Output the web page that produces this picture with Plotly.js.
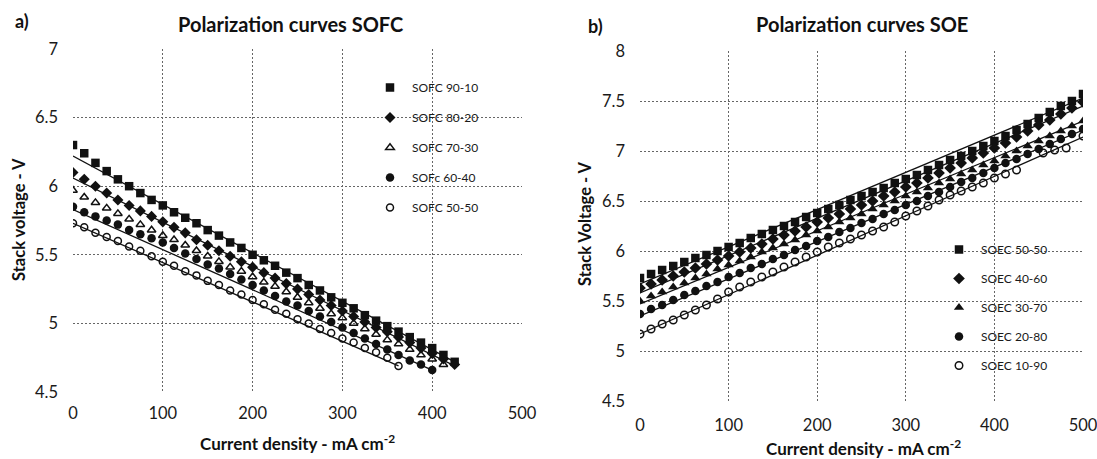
<!DOCTYPE html>
<html>
<head>
<meta charset="utf-8">
<script src="https://cdn.plot.ly/plotly-3.0.1.min.js"></script>
<style>html,body{margin:0;padding:0;background:#fff;}#chart{width:1097px;height:459px;}</style>
</head>
<body>
<div id="chart"></div>
<script>
// ---------- SOFC (panel a) ----------
const fcCurrent = [0,12.5,25,37.5,50,62.5,75,87.5,100,112.5,125,137.5,150,162.5,175,187.5,200,212.5,225,237.5,250,262.5,275,287.5,300,312.5,325,337.5,350,362.5,375,387.5,400,412.5,425];
const fcNames = ["SOFC 90-10","SOFC 80-20","SOFC 70-30","SOFc 60-40","SOFC 50-50"];
const fc9010 = [6.30,6.24,6.17,6.11,6.05,6.00,5.95,5.90,5.86,5.81,5.77,5.73,5.68,5.64,5.59,5.55,5.50,5.46,5.42,5.37,5.33,5.28,5.24,5.19,5.15,5.11,5.06,5.02,4.98,4.94,4.90,4.86,4.82,4.77,4.72];
const fc8020 = [6.10,6.05,6.00,5.95,5.90,5.86,5.82,5.78,5.74,5.70,5.66,5.61,5.57,5.53,5.49,5.45,5.41,5.37,5.33,5.29,5.25,5.21,5.17,5.13,5.09,5.05,5.01,4.97,4.94,4.90,4.86,4.82,4.78,4.74,4.70];
const fc7030 = [5.97,5.92,5.88,5.84,5.80,5.76,5.72,5.68,5.64,5.61,5.57,5.53,5.49,5.45,5.41,5.38,5.34,5.30,5.27,5.23,5.19,5.15,5.11,5.07,5.04,5.00,4.96,4.92,4.88,4.85,4.81,4.77,4.74,4.70];
const fc6040 = [5.85,5.81,5.78,5.75,5.72,5.68,5.65,5.62,5.59,5.55,5.51,5.47,5.43,5.40,5.36,5.32,5.28,5.24,5.20,5.16,5.13,5.09,5.05,5.01,4.97,4.93,4.89,4.85,4.81,4.77,4.73,4.70,4.66];
const fc5050 = [5.73,5.70,5.66,5.63,5.60,5.56,5.53,5.49,5.45,5.42,5.38,5.35,5.31,5.28,5.24,5.21,5.17,5.14,5.10,5.07,5.03,5.00,4.96,4.93,4.89,4.86,4.82,4.79,4.75,4.69];
// linear trend lines (end points)
const fcFitX9010 = [0,425],   fcFit9010 = [6.22,4.72];
const fcFitX8020 = [0,425],   fcFit8020 = [6.06,4.69];
const fcFitX6040 = [0,400],   fcFit6040 = [5.83,4.66];
const fcFitX5050 = [0,362.5], fcFit5050 = [5.73,4.69];

// ---------- SOEC (panel b) ----------
const ecCurrent = [0,12.5,25,37.5,50,62.5,75,87.5,100,112.5,125,137.5,150,162.5,175,187.5,200,212.5,225,237.5,250,262.5,275,287.5,300,312.5,325,337.5,350,362.5,375,387.5,400,412.5,425,437.5,450,462.5,475,487.5,500];
const ecNames = ["SOEC 50-50","SOEC 40-60","SOEC 30-70","SOEC 20-80","SOEC 10-90"];
const ec5050 = [5.73,5.77,5.81,5.85,5.89,5.93,5.96,6.00,6.04,6.08,6.13,6.17,6.21,6.25,6.29,6.34,6.38,6.42,6.46,6.51,6.55,6.59,6.63,6.68,6.72,6.76,6.81,6.86,6.91,6.95,7.00,7.05,7.10,7.15,7.21,7.27,7.33,7.39,7.45,7.50,7.57];
const ec4060 = [5.63,5.67,5.71,5.75,5.79,5.83,5.87,5.91,5.95,5.99,6.03,6.07,6.12,6.16,6.20,6.24,6.29,6.33,6.37,6.42,6.46,6.50,6.55,6.59,6.64,6.68,6.73,6.78,6.83,6.88,6.93,6.98,7.03,7.08,7.14,7.20,7.26,7.31,7.37,7.43,7.49];
const ec3070 = [5.50,5.55,5.59,5.64,5.68,5.73,5.77,5.82,5.86,5.90,5.94,5.99,6.03,6.07,6.11,6.16,6.20,6.24,6.29,6.33,6.37,6.42,6.46,6.50,6.55,6.59,6.63,6.68,6.72,6.77,6.81,6.86,6.90,6.95,7.00,7.05,7.10,7.15,7.20,7.25,7.30];
const ec2080 = [5.37,5.42,5.46,5.51,5.56,5.60,5.65,5.69,5.74,5.78,5.83,5.87,5.92,5.96,6.01,6.05,6.10,6.14,6.19,6.23,6.28,6.32,6.37,6.41,6.46,6.50,6.55,6.59,6.64,6.69,6.73,6.78,6.83,6.88,6.92,6.97,7.02,7.07,7.12,7.17,7.22];
const ecCurrent1090 = [0,12.5,25,37.5,50,62.5,75,87.5,100,112.5,125,137.5,150,162.5,175,187.5,200,212.5,225,237.5,250,262.5,275,287.5,300,312.5,325,337.5,350,362.5,375,387.5,400,412.5,425,455,468,481,500];
const ec1090 = [5.17,5.22,5.27,5.31,5.36,5.41,5.46,5.52,5.59,5.64,5.69,5.74,5.79,5.84,5.89,5.94,5.99,6.04,6.08,6.12,6.16,6.20,6.24,6.29,6.35,6.40,6.45,6.51,6.56,6.60,6.64,6.68,6.73,6.77,6.81,6.98,7.01,7.03,7.15];
const ecFitX = [0,500];
const ecFit5050 = [5.67,7.53];
const ecFit4060 = [5.58,7.45];
const ecFit3070 = [5.47,7.30];
const ecFit2080 = [5.35,7.21];
const ecFit1090 = [5.17,7.14];

const INK = '#111';
function pts(x, y, name, symbol, size, xa, ya, legend, grp) {
  const open = symbol.indexOf('open') >= 0;
  return {
    type: 'scatter', mode: 'markers', x: x, y: y, name: name,
    xaxis: xa, yaxis: ya, legend: legend, legendgroup: grp,
    marker: {symbol: symbol, size: size, color: INK, line: {color: INK, width: open ? 1.5 : 0}}
  };
}
function fit(x, y, xa, ya) {
  return {type: 'scatter', mode: 'lines', x: x, y: y, xaxis: xa, yaxis: ya,
    showlegend: false, hoverinfo: 'skip', line: {color: INK, width: 1.3}};
}

const traces = [
  fit(fcFitX9010, fcFit9010, 'x', 'y'),
  fit(fcFitX8020, fcFit8020, 'x', 'y'),
  fit(fcFitX6040, fcFit6040, 'x', 'y'),
  fit(fcFitX5050, fcFit5050, 'x', 'y'),
  pts(fcCurrent.slice(0, fc9010.length), fc9010, fcNames[0], 'square', 8.5, 'x', 'y', 'legend', 'a1'),
  pts(fcCurrent.slice(0, fc8020.length), fc8020, fcNames[1], 'diamond', 8.5, 'x', 'y', 'legend', 'a2'),
  pts(fcCurrent.slice(0, fc7030.length), fc7030, fcNames[2], 'triangle-up-open', 7.5, 'x', 'y', 'legend', 'a3'),
  pts(fcCurrent.slice(0, fc6040.length), fc6040, fcNames[3], 'circle', 8.5, 'x', 'y', 'legend', 'a4'),
  pts(fcCurrent.slice(0, fc5050.length), fc5050, fcNames[4], 'circle-open', 7, 'x', 'y', 'legend', 'a5'),

  fit(ecFitX, ecFit5050, 'x2', 'y2'),
  fit(ecFitX, ecFit4060, 'x2', 'y2'),
  fit(ecFitX, ecFit3070, 'x2', 'y2'),
  fit(ecFitX, ecFit2080, 'x2', 'y2'),
  fit(ecFitX, ecFit1090, 'x2', 'y2'),
  pts(ecCurrent, ec5050, ecNames[0], 'square', 8.5, 'x2', 'y2', 'legend2', 'b1'),
  pts(ecCurrent, ec4060, ecNames[1], 'diamond', 9, 'x2', 'y2', 'legend2', 'b2'),
  pts(ecCurrent, ec3070, ecNames[2], 'triangle-up', 9, 'x2', 'y2', 'legend2', 'b3'),
  pts(ecCurrent, ec2080, ecNames[3], 'circle', 8.5, 'x2', 'y2', 'legend2', 'b4'),
  pts(ecCurrent1090, ec1090, ecNames[4], 'circle-open', 7.5, 'x2', 'y2', 'legend2', 'b5')
];

const W = 1097, H = 459;
const px = v => v / W, py = v => 1 - v / H;
const axBase = {
  showgrid: true, gridcolor: '#666', griddash: '2px,2px', gridwidth: 1,
  zeroline: false, showline: false, ticks: '', fixedrange: true, ticklabeloverflow: 'allow',
  tickfont: {family: 'Lato, sans-serif', size: 16.5, color: '#1a1a1a'}
};
const legBase = {
  font: {family: 'Lato, sans-serif', size: 12, color: '#1a1a1a'},
  bgcolor: 'rgba(255,255,255,0)', itemsizing: 'trace', itemwidth: 34,
  xanchor: 'left', yanchor: 'top'
};
const bold = (s) => '<b>' + s + '</b>';
const annFont = (size) => ({family: 'Lato, sans-serif', size: size, color: '#111'});
function ann(text, x, y, size, angle) {
  return {text: bold(text), x: px(x), y: py(y), xref: 'paper', yref: 'paper',
    xanchor: 'center', yanchor: 'middle', showarrow: false, textangle: angle || 0, font: annFont(size)};
}

const layout = {
  width: W, height: H,
  margin: {l: 0, r: 0, t: 0, b: 0},
  paper_bgcolor: '#fff', plot_bgcolor: '#fff',
  font: {family: 'Lato, sans-serif', color: '#111'},
  xaxis: Object.assign({}, axBase, {domain: [px(73), px(522)], range: [0, 500], tick0: 0, dtick: 100, anchor: 'y', ticklabelstandoff: 9}),
  yaxis: Object.assign({}, axBase, {domain: [1 - 392 / H, 1 - 49 / H], range: [4.5, 7], tick0: 4.5, dtick: 0.5, anchor: 'x', ticklabelstandoff: 14}),
  xaxis2: Object.assign({}, axBase, {domain: [px(640), px(1083)], range: [0, 500], tick0: 0, dtick: 100, anchor: 'y2', ticklabelstandoff: 12}),
  yaxis2: Object.assign({}, axBase, {domain: [1 - 401 / H, 1 - 51 / H], range: [4.5, 8], tick0: 4.5, dtick: 0.5, anchor: 'x2', ticklabelstandoff: 14}),
  legend: Object.assign({}, legBase, {x: px(368), y: py(73), tracegroupgap: 11}),
  legend2: Object.assign({}, legBase, {x: px(937), y: py(235), tracegroupgap: 10}),
  showlegend: true,
  annotations: [
    ann('a)', 22, 21, 18),
    ann('Polarization curves SOFC', 290, 24, 20),
    ann('b)', 595, 26, 18),
    ann('Polarization curves SOE', 862, 24, 20),
    ann('Current density - mA cm<sup>-2</sup>', 297, 442, 17),
    ann('Current density - mA cm<sup>-2</sup>', 863, 447, 17),
    ann('Stack voltage - V', 19, 220, 16.5, -90),
    ann('Stack Voltage - V', 585, 224, 16.5, -90)
  ]
};

Plotly.newPlot('chart', traces, layout, {displayModeBar: false, staticPlot: true});
</script>
</body>
</html>
